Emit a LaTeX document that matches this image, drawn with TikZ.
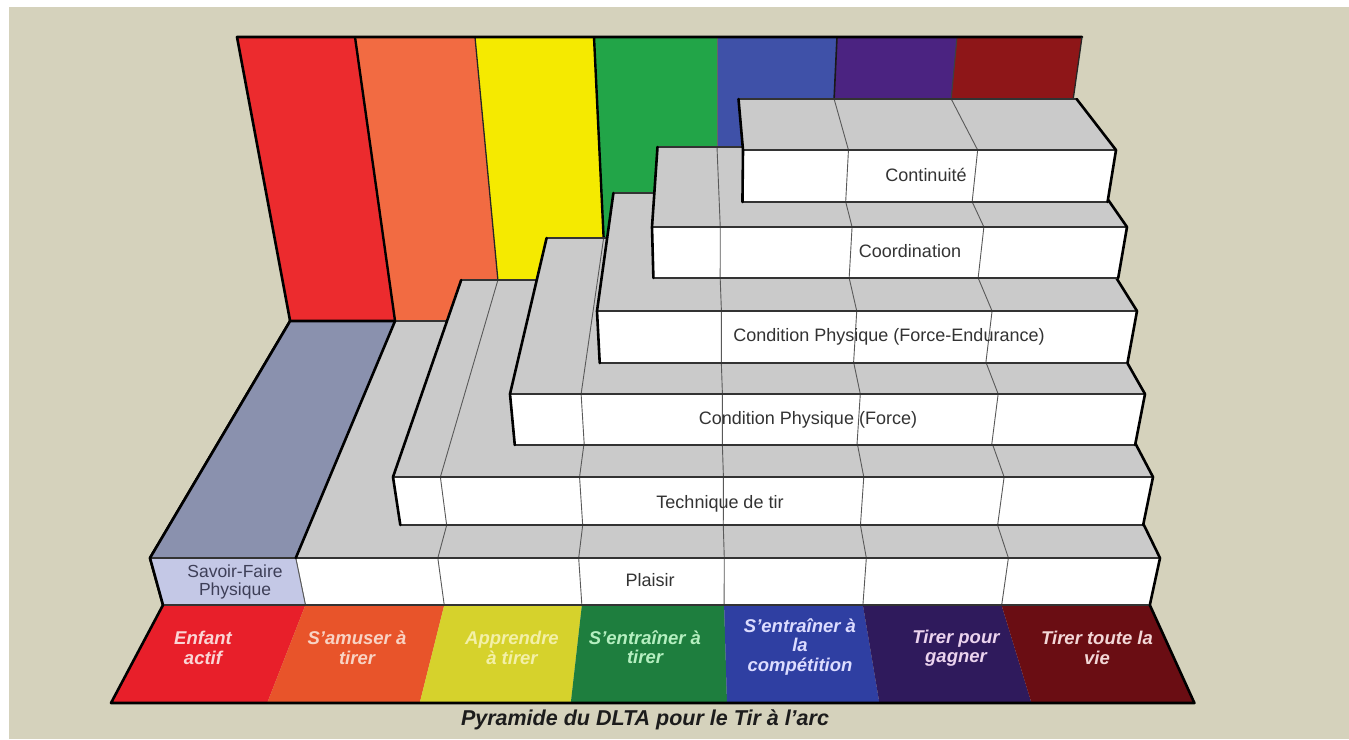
\documentclass[tikz,border=0pt]{standalone}
\usepackage{fontspec}
\setmainfont{Liberation Sans}
\definecolor{bgbeige}{HTML}{D5D2BC}
\definecolor{wred}{HTML}{EC2B2E}
\definecolor{worange}{HTML}{F26B42}
\definecolor{wyellow}{HTML}{F5EA00}
\definecolor{wgreen}{HTML}{22A548}
\definecolor{wblue}{HTML}{3F51A8}
\definecolor{wpurple}{HTML}{4B2381}
\definecolor{wmaroon}{HTML}{8E1618}
\definecolor{bred}{HTML}{E81F2A}
\definecolor{borange}{HTML}{E8542A}
\definecolor{byellow}{HTML}{D6D22C}
\definecolor{bgreen}{HTML}{1E7E3E}
\definecolor{bblue}{HTML}{2F3FA2}
\definecolor{bpurple}{HTML}{2F1A5C}
\definecolor{bmaroon}{HTML}{6A0D13}
\definecolor{topgrey}{HTML}{CACACA}
\definecolor{sftop}{HTML}{8A91AE}
\definecolor{sffront}{HTML}{C4C8E6}
\definecolor{labelgrey}{HTML}{333333}
\definecolor{sftext}{HTML}{3E3F58}
\definecolor{captext}{HTML}{1C1C1C}
\definecolor{tred}{HTML}{FAD6D6}
\definecolor{torange}{HTML}{F8D3C4}
\definecolor{tyellow}{HTML}{F3F0A8}
\definecolor{tgreen}{HTML}{B5EFC0}
\definecolor{tblue}{HTML}{DCDCFF}
\definecolor{tpurple}{HTML}{EBD3EE}
\definecolor{tmaroon}{HTML}{F2D7D7}
\tikzset{
 outer/.style={line width=2.6pt, black, line join=round, line cap=round},
 edgeline/.style={line width=1.3pt, black!80},
 gridline/.style={line width=0.9pt, black!65},
 stepname/.style={font=\fontsize{18}{20}\selectfont, text=labelgrey, inner sep=0pt, anchor=base},
 bandname/.style={font=\bfseries\itshape\fontsize{18.5}{19.5}\selectfont, align=center, inner sep=0pt},
}
% #1 yb, #2 yt, #3 yf, #4 back-left x, #5 front-left x, #6 front-right x
\newcommand\steplevel[6]{%
  \pgfmathsetmacro\lvBR{695+(#6-695)*((#1+395)/(#2+395))}%
  \pgfmathsetmacro\lvFL{717+(#5-717)*((2604-#3)/(2604-#2))}%
  \pgfmathsetmacro\lvFR{717+(#6-717)*((2604-#3)/(2604-#2))}%
  \fill[topgrey] (#4,#1) -- (\lvBR,#1) -- (#6,#2) -- (#5,#2) -- cycle;
  \fill[white] (#5,#2) -- (#6,#2) -- (\lvFR,#3) -- (\lvFL,#3) -- cycle;
  \begin{scope}
    \clip (#4,#1) -- (\lvBR,#1) -- (#6,#2) -- (\lvFR,#3) -- (\lvFL,#3) -- (#5,#2) -- cycle;
    \foreach \gt in {355,475,594,717,837,957}{%
      \pgfmathsetmacro\gW{717+(\gt-717)*(1-(#1-37)/2567)}%
      \pgfmathsetmacro\gA{695+(\gW-695)*((#2+395)/(#1+395))}%
      \pgfmathsetmacro\gF{717+(\gA-717)*((2604-#3)/(2604-#2))}%
      \draw[gridline] (\gW,#1) -- (\gA,#2) -- (\gF,#3);
    }
  \end{scope}
  \draw[edgeline] (#4,#1) -- (\lvBR,#1);
  \draw[edgeline] (#5,#2) -- (#6,#2);
  \draw[edgeline] (\lvFL,#3) -- (\lvFR,#3);
  \draw[outer] (#4,#1) -- (#5,#2) -- (\lvFL,#3);
  \draw[outer] (\lvBR,#1) -- (#6,#2) -- (\lvFR,#3);
}
\begin{document}
\begin{tikzpicture}[x=1pt,y=-1pt]
\useasboundingbox (0,0) rectangle (1349,739);
\fill[white] (0,0) rectangle (1349,739);
\fill[bgbeige] (9,7) rectangle (1349,739);
% back wall
\foreach \ta/\tb/\col in {237/355/wred,355/475/worange,475/594/wyellow,594/717/wgreen,717/837/wblue,837/957/wpurple,957/1082/wmaroon}{
  \pgfmathsetmacro\wa{717+(\ta-717)*(1-284/2567)}
  \pgfmathsetmacro\wb{717+(\tb-717)*(1-284/2567)}
  \fill[\col] (\ta,37) -- (\tb,37) -- (\wb,321) -- (\wa,321) -- cycle;
}
\foreach \t/\lw/\sh in {355/2.4pt/100,475/1.3pt/85,594/2.4pt/100,717/0.9pt/60,837/1.6pt/90,957/1.1pt/75}{
  \pgfmathsetmacro\wa{717+(\t-717)*(1-284/2567)}
  \draw[line width=\lw, black!\sh] (\t,37) -- (\wa,321);
}
\draw[outer] (290.1,321) -- (237,37) -- (1082,37);
\draw[line width=1.3pt, black!85] (1082,37) -- (1073.2,99);
% level 1 (Plaisir + Savoir-Faire)
\steplevel{321}{558}{605}{290.1}{150}{1160}
\pgfmathsetmacro\sfW{717+(355-717)*(1-284/2567)}
\pgfmathsetmacro\sfA{695+(\sfW-695)*(953/716)}
\pgfmathsetmacro\sfF{717+(\sfA-717)*(1999/2046)}
\fill[sftop] (290.1,321) -- (\sfW,321) -- (\sfA,558) -- (150,558) -- cycle;
\fill[sffront] (150,558) -- (\sfA,558) -- (\sfF,605) -- (163,605) -- cycle;
\draw[gridline] (\sfA,558) -- (\sfF,605);
\draw[edgeline] (150,558) -- (\sfA,558);
\draw[outer] (\sfW,321) -- (\sfA,558);
\draw[outer] (163,605) -- (150,558) -- (290.1,321) -- (\sfW,321);
% upper levels
\steplevel{280}{477}{525}{461.2}{393}{1153}
\steplevel{238}{394}{445}{546.6}{510}{1145}
\steplevel{193}{311}{363}{613.4}{597}{1137}
\steplevel{147}{227}{278}{657.5}{652}{1127}
\steplevel{99}{150}{202}{738.5}{743}{1116}
% front band
\fill[bred] (163,605) -- (305.4,605) -- (267.2,703) -- (111,703) -- cycle;
\fill[borange] (305.4,605) -- (444.3,605) -- (419.7,703) -- (267.2,703) -- cycle;
\fill[byellow] (444.3,605) -- (581.9,605) -- (570.8,703) -- (419.7,703) -- cycle;
\fill[bgreen] (581.9,605) -- (724.1,605) -- (727,703) -- (570.8,703) -- cycle;
\fill[bblue] (724.1,605) -- (862.9,605) -- (879.4,703) -- (727,703) -- cycle;
\fill[bpurple] (862.9,605) -- (1001.5,605) -- (1031.5,703) -- (879.4,703) -- cycle;
\fill[bmaroon] (1001.5,605) -- (1149.8,605) -- (1194.4,703) -- (1031.5,703) -- cycle;
\draw[edgeline] (163,605) -- (1149.8,605);
\draw[outer] (163,605) -- (111,703) -- (1194.4,703) -- (1149.8,605);
% step labels
\node[stepname] (cont) at (926,181.5) {Continuité};
\node[stepname] (coord) at (910,257.5) {Coordination};
\node[stepname] (cpfe) at (889,341) {Condition Physique (Force-Endurance)};
\node[stepname] (cpf) at (808,424.5) {Condition Physique (Force)};
\node[stepname] (tech) at (720,508.5) {Technique de tir};
\node[stepname] (plaisir) at (650,586.5) {Plaisir};
\node[font=\fontsize{17.5}{17.5}\selectfont, text=sftext, align=center, inner sep=0pt] (sf) at (235,582) {Savoir-Faire\\Physique};
% band labels
\node[bandname, text=tred] (b1) at (203,648) {Enfant\\actif};
\node[bandname, text=torange] (b2) at (357,648) {S'amuser à\\tirer};
\node[bandname, text=tyellow] (b3) at (512,648) {Apprendre\\à tirer};
\node[bandname, text=tgreen] (b4) at (645,647) {S'entraîner à\\tirer};
\node[bandname, text=tblue] (b5) at (800,647) {S'entraîner à\\la\\compétition};
\node[bandname, text=tpurple] (b6) at (956,648) {Tirer pour\\gagner};
\node[bandname, text=tmaroon] (b7) at (1097,648) {Tirer toute la\\vie};
% caption
\node[font=\bfseries\itshape\fontsize{21.5}{24}\selectfont, text=captext, inner sep=0pt] (caption) at (645,720) {Pyramide du DLTA pour le Tir à l'arc};
\end{tikzpicture}
\end{document}
